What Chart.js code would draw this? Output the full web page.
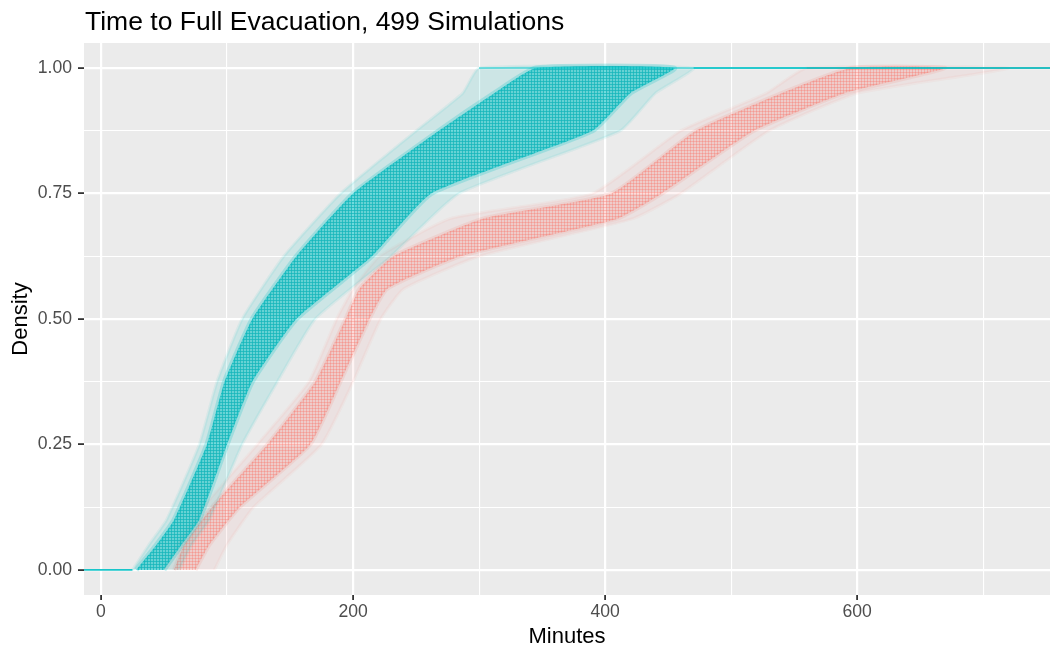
<!DOCTYPE html>
<html>
<head>
<meta charset="utf-8">
<script src="https://cdn.jsdelivr.net/npm/chart.js@4.4.1/dist/chart.umd.min.js"></script>
<style>
  html, body { margin: 0; padding: 0; background: #fff; }
  #wrap { width: 1050px; height: 648px; }
</style>
</head>
<body>
<div id="wrap"><canvas id="evacChart" width="1050" height="648"></canvas></div>
<script>
const chartTitle = 'Time to Full Evacuation, 499 Simulations';
const xTitle = 'Minutes';
const yTitle = 'Density';

// axis limits and ticks
const xLimits = [-13.5, 753];
const yLimits = [-0.05, 1.05];
const xMajorTicks = [0, 200, 400, 600];
const xMinorTicks = [100, 300, 500, 700];
const yMajorTicks = [0, 0.25, 0.5, 0.75, 1];
const yMinorTicks = [0.125, 0.375, 0.625, 0.875];

// cyan runs: minutes at which the evacuated share reaches each level
const cyanLevels    = [0,  0.05, 0.10, 0.25, 0.375, 0.50, 0.625, 0.75, 0.875, 0.95, 1];
const cyanHaloEarly = [25, 38,   52,   78,   92,    112,  145,   190,  250,   287,  300];
const cyanCoreEarly = [28, 44,   58,   84,   98,    120,  155,   200,  268,   312,  345];
const cyanCoreLate  = [50, 64,   78,   100,  120,   155,  215,   262,  390,   420,  455];
const cyanHaloLate  = [62, 72,   86,   112,  140,   170,  230,   284,  412,   440,  470];

// red runs
const redLevels    = [0,  0.05, 0.125, 0.25, 0.375, 0.50, 0.56, 0.625, 0.70, 0.75, 0.875, 0.95, 1];
const redHaloEarly = [50, 60,   81,    124,  165,   187,  200,  221,   277,  390,  460,   528,  560];
const redCoreEarly = [58, 66,   88,    132,  170,   194,  205,  232,   303,  405,  472,   540,  595];
const redCoreLate  = [75, 86,   110,   166,  190,   213,  227,  285,   410,  445,  518,   590,  670];
const redHaloLate  = [90, 100,  121,   175,  200,   222,  240,  300,   422,  460,  530,   600,  720];

const CYAN = '0,191,196';
const RED = '248,118,109';
const FONT = '"Liberation Sans", Arial, Helvetica, sans-serif';

const canvas = document.getElementById('evacChart');
const ctx = canvas.getContext('2d');

// fine grid texture, like many overlapping step lines
function hatch(base, line) {
    const tile = document.createElement('canvas');
    tile.width = 3; tile.height = 3;
    const g = tile.getContext('2d');
    g.fillStyle = base;
    g.fillRect(0, 0, 3, 3);
    g.fillStyle = line;
    g.fillRect(0, 0, 3, 1);
    g.fillRect(0, 0, 1, 3);
    return ctx.createPattern(tile, 'repeat');
}

// closed outline: early edge going up, late edge coming back down
function band(levels, early, late) {
    const pts = levels.map((y, i) => ({ x: early[i], y }));
    for (let i = levels.length - 1; i >= 0; i--) pts.push({ x: late[i], y: levels[i] });
    return pts;
}

function bandSet(label, pts, fillColor, edge, edgeWidth, order) {
    return {
        label, data: pts, fill: 'shape', backgroundColor: fillColor,
        borderColor: edge, borderWidth: edgeWidth, pointRadius: 0, tension: 0.15, order
    };
}

function tailSet(label, pts, color, width, order) {
    return {
        label, data: pts, fill: false, borderColor: color, borderWidth: width,
        pointRadius: 0, tension: 0, order
    };
}

const lastCyan = cyanLevels.length - 1;
const lastRed = redLevels.length - 1;

const datasets = [
    // cyan tails at 0 and 1 (ECDF runs out to the panel edges)
    tailSet('cyan-start', [{ x: xLimits[0], y: 0 }, { x: cyanHaloEarly[0], y: 0 }], `rgba(${CYAN},0.9)`, 1.6, 0),
    tailSet('cyan-done', [{ x: cyanHaloLate[lastCyan], y: 1 }, { x: xLimits[1], y: 1 }], `rgba(${CYAN},0.85)`, 2, 0),
    tailSet('cyan-done-early', [{ x: cyanHaloEarly[lastCyan], y: 1 }, { x: cyanHaloLate[lastCyan], y: 1 }], `rgba(${CYAN},0.5)`, 2, 0),
    bandSet('cyan-core', band(cyanLevels, cyanCoreEarly, cyanCoreLate),
        hatch(`rgba(${CYAN},0.5)`, `rgba(20,180,186,0.72)`), `rgba(${CYAN},0.22)`, 5, 1),
    bandSet('cyan-halo', band(cyanLevels, cyanHaloEarly, cyanHaloLate),
        `rgba(${CYAN},0.13)`, `rgba(${CYAN},0.08)`, 3, 2),
    tailSet('red-done', [{ x: redHaloEarly[lastRed], y: 1 }, { x: xLimits[1], y: 1 }], `rgba(${RED},0.55)`, 2, 3),
    bandSet('red-core', band(redLevels, redCoreEarly, redCoreLate),
        hatch(`rgba(${RED},0.2)`, `rgba(${RED},0.36)`), `rgba(${RED},0.14)`, 4, 4),
    bandSet('red-halo', band(redLevels, redHaloEarly, redHaloLate),
        `rgba(${RED},0.08)`, `rgba(${RED},0.06)`, 3, 5)
];

const panelPlugin = {
    id: 'panel',
    beforeDraw(chart) {
        const a = chart.chartArea;
        const c = chart.ctx;
        c.save();
        c.fillStyle = '#EBEBEB';
        c.fillRect(a.left, a.top, a.right - a.left, a.bottom - a.top);
        c.restore();
    },
    afterDraw(chart) {
        const c = chart.ctx;
        c.save();
        c.fillStyle = '#000';
        c.font = `26.5px ${FONT}`;
        c.textBaseline = 'alphabetic';
        c.textAlign = 'left';
        c.fillText(chartTitle, chart.chartArea.left + 1, 30);
        c.restore();
    }
};

function tickList(major, minor) {
    return [...major, ...minor].sort((a, b) => a - b).map(v => ({ value: v }));
}

const tickFont = { family: FONT, size: 17.6 };
const titleFont = { family: FONT, size: 22, lineHeight: 1 };

new Chart(ctx, {
    type: 'line',
    data: { datasets },
    plugins: [panelPlugin],
    options: {
        responsive: false,
        devicePixelRatio: 1,
        animation: false,
        events: [],
        layout: { padding: { top: 43, left: 0, right: 0, bottom: 0 } },
        plugins: { legend: { display: false }, tooltip: { enabled: false } },
        scales: {
            x: {
                type: 'linear',
                min: xLimits[0],
                max: xLimits[1],
                afterBuildTicks: s => { s.ticks = tickList(xMajorTicks, xMinorTicks); },
                afterFit: s => { s.height = 53; },
                border: { display: false },
                grid: {
                    color: '#FFFFFF',
                    lineWidth: c => xMajorTicks.includes(c.tick.value) ? 2.2 : 1.1,
                    tickColor: c => xMajorTicks.includes(c.tick.value) ? '#333333' : 'rgba(0,0,0,0)',
                    tickLength: 5,
                    tickWidth: 1.8
                },
                ticks: {
                    autoSkip: false,
                    maxRotation: 0,
                    padding: 2,
                    color: '#4D4D4D',
                    font: tickFont,
                    callback: v => xMajorTicks.includes(v) ? String(v) : ''
                },
                title: { display: true, text: xTitle, color: '#000', font: titleFont, padding: { top: 0, bottom: 0 } }
            },
            y: {
                type: 'linear',
                min: yLimits[0],
                max: yLimits[1],
                afterBuildTicks: s => { s.ticks = tickList(yMajorTicks, yMinorTicks); },
                afterFit: s => { s.width = 84; },
                border: { display: false },
                grid: {
                    color: '#FFFFFF',
                    lineWidth: c => yMajorTicks.includes(c.tick.value) ? 2.2 : 1.1,
                    tickColor: c => yMajorTicks.includes(c.tick.value) ? '#333333' : 'rgba(0,0,0,0)',
                    tickLength: 6,
                    tickWidth: 1.8
                },
                ticks: {
                    autoSkip: false,
                    padding: 6,
                    color: '#4D4D4D',
                    font: tickFont,
                    callback: v => yMajorTicks.includes(v) ? v.toFixed(2) : ''
                },
                title: { display: true, text: yTitle, color: '#000', font: titleFont, padding: { top: 9.5, bottom: 0 } }
            }
        }
    }
});
</script>
</body>
</html>
